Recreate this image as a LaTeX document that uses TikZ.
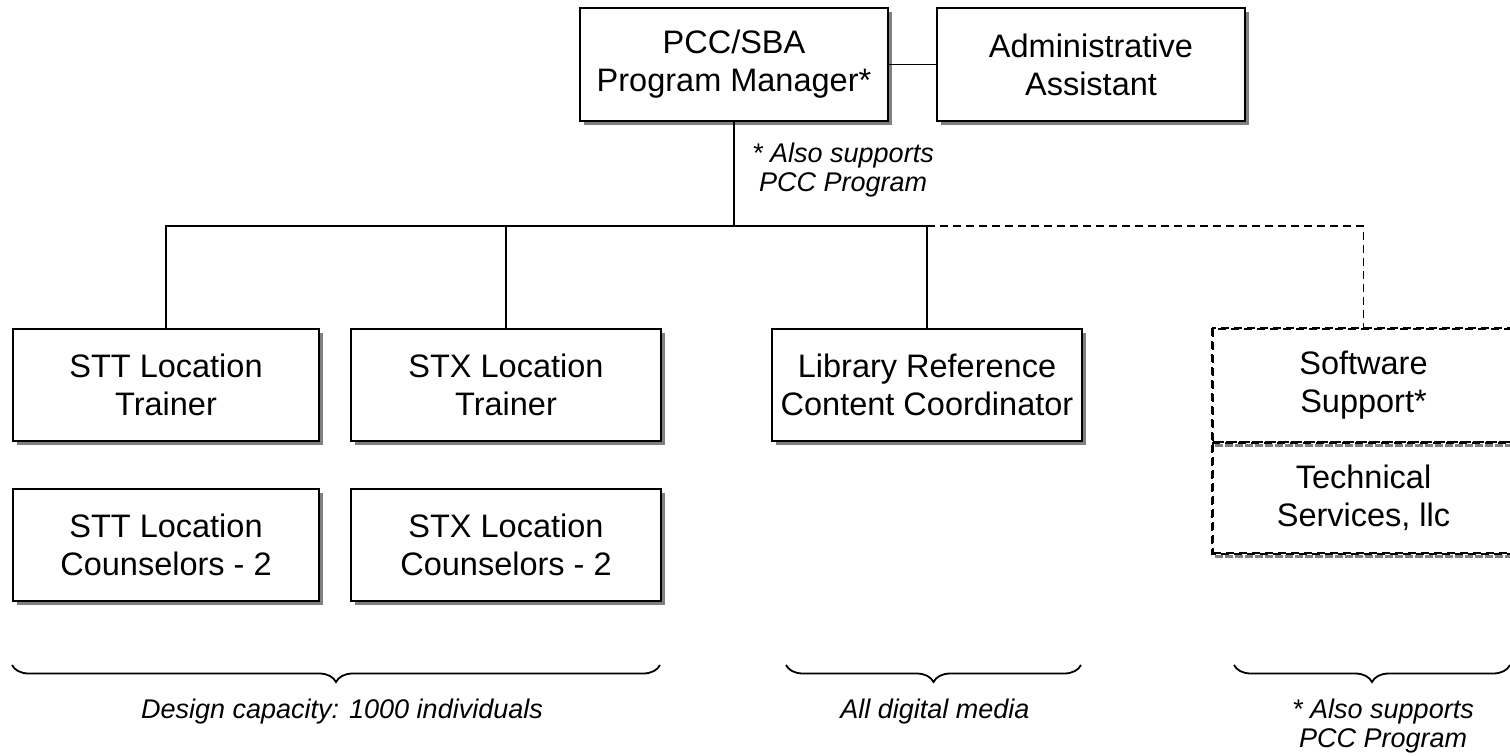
\documentclass[tikz,border=0pt]{standalone}
\usepackage{fontspec}
\setmainfont{Liberation Sans}
\usetikzlibrary{shadows,decorations.pathreplacing}
\newcommand{\orgboxfont}{\fontsize{32.5}{38}\selectfont}
\newcommand{\orgnotefont}{\fontsize{27}{29}\selectfont\itshape}
\begin{document}
\begin{tikzpicture}[x=1pt,y=-1pt,
  box/.style={draw=black, line width=1.8pt, fill=white, align=center, inner sep=0pt,
    font=\orgboxfont,
    drop shadow={shadow xshift=4pt, shadow yshift=-4pt, fill=black!50, opacity=1}},
  swbox/.style={draw=black, line width=1.6pt, dash pattern=on 8pt off 5pt, fill=white,
    align=center, inner sep=0pt, font=\orgboxfont},
  swshade/.style={draw=black!50, line width=2.4pt, dash pattern=on 8pt off 2pt},
  conn/.style={draw=black, line width=1.6pt},
  dashconn/.style={draw=black, line width=1.6pt, dash pattern=on 8pt off 5pt},
  note/.style={font=\orgnotefont, align=left, inner sep=0pt},
  cnote/.style={font=\orgnotefont, align=center, inner sep=0pt},
  bracestyle/.style={draw=black, line width=1.8pt, decorate,
    decoration={brace, mirror, amplitude=17pt}}]
\useasboundingbox (0,0) rectangle (1510,755);
\fill[white] (0,0) rectangle (1510,755);

% top row
\node[box, minimum width=308pt, minimum height=113pt] (pm) at (734,64.5) {PCC/SBA\\Program Manager*};
\node[box, minimum width=308pt, minimum height=113pt] (admin) at (1091,64.5) {Administrative\\Assistant};
\node[note, anchor=west] (pmnote) at (752,170) {* Also supports\\\hspace{7pt}PCC Program};

% second row
\node[box, minimum width=306pt, minimum height=112pt] (stt) at (166,385) {STT Location\\Trainer};
\node[box, minimum width=310pt, minimum height=112pt] (stx) at (506,385) {STX Location\\Trainer};
\node[box, minimum width=310pt, minimum height=112pt] (lib) at (927,385) {Library Reference\\Content Coordinator};
\node[swbox, minimum width=301pt, minimum height=113pt] (sw) at (1363.5,385.5) {Software\\Support*};
\node[swbox, minimum width=301pt, minimum height=111pt] (tech) at (1363.5,497.5) {Technical\\Services, llc};
\draw[swshade] ([xshift=3pt,yshift=-2.6pt]sw.south west) -- ([xshift=3pt,yshift=-2.6pt]sw.south east);
\draw[swshade] ([xshift=3pt,yshift=-2.6pt]tech.south west) -- ([xshift=3pt,yshift=-2.6pt]tech.south east);
\draw[swbox, fill=none] (sw.north west) rectangle (tech.south east);
\draw[swbox, fill=none] (sw.south west) -- (sw.south east);

% third row
\node[box, minimum width=306pt, minimum height=112pt] (sttc) at (166,545) {STT Location\\Counselors - 2};
\node[box, minimum width=310pt, minimum height=112pt] (stxc) at (506,545) {STX Location\\Counselors - 2};

% connectors
\coordinate (bary) at (0,226);
\draw[conn] (pm.east) -- (admin.west);
\draw[conn] (pm.south) -- (pm.south |- bary);
\draw[conn] (stt.north) -- (stt.north |- bary) -- (lib.north |- bary) -- (lib.north);
\draw[conn] (stx.north) -- (stx.north |- bary);
\draw[dashconn] (lib.north |- bary) -- (sw.north |- bary) -- (sw.north);

% braces
\coordinate (bA1) at (12,665);  \coordinate (bA2) at (660,665);
\coordinate (bB1) at (786,665); \coordinate (bB2) at (1081,665);
\coordinate (bC1) at (1234,665); \coordinate (bC2) at (1510,665);
\draw[bracestyle] (bA1) -- (bA2);
\draw[bracestyle] (bB1) -- (bB2);
\draw[bracestyle] (bC1) -- (bC2);

\node[cnote] (nA) at (342,712) {Design capacity: 1000 individuals};
\node[cnote] (nB) at (935,712) {All digital media};
\node[note, anchor=west] (nC) at (1292,726) {* Also supports\\\hspace{7pt}PCC Program};
\end{tikzpicture}
\end{document}
